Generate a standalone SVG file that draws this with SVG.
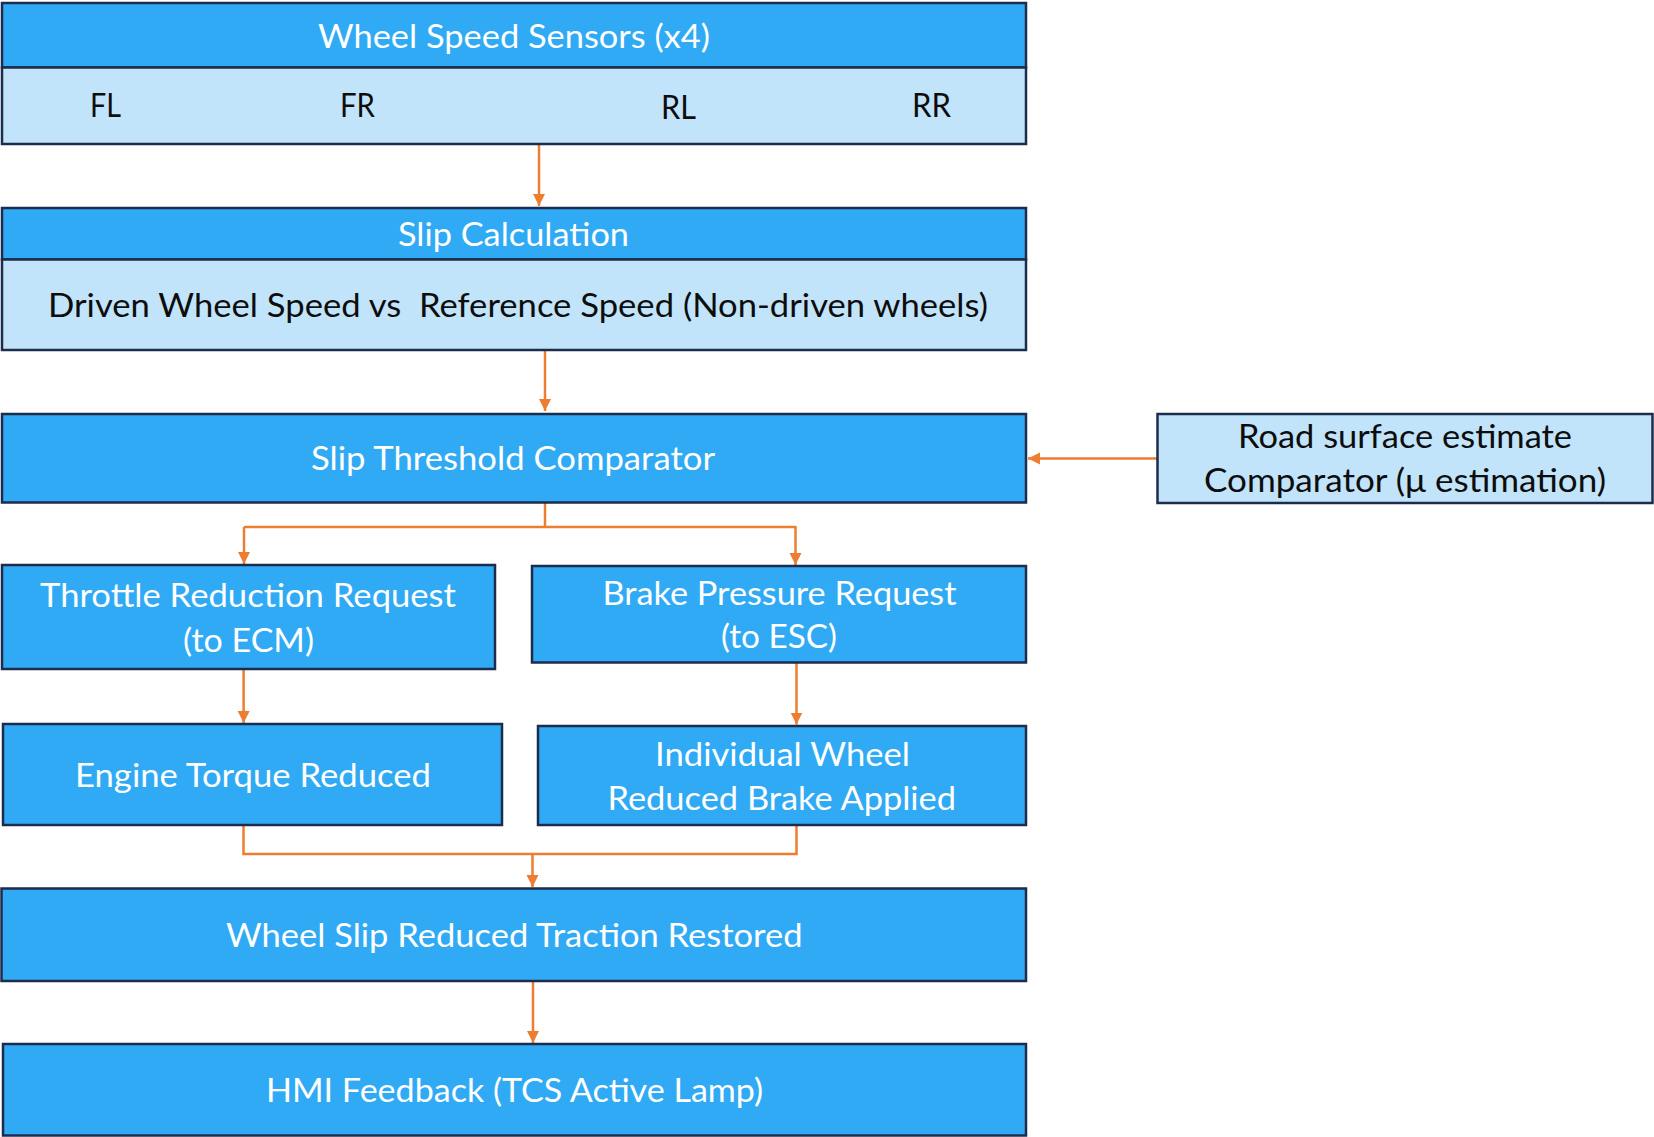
<svg xmlns="http://www.w3.org/2000/svg" width="1654" height="1137" viewBox="0 0 1654 1137">
<style>
.hdr{fill:#31AAF5;stroke:#1C2C4C;stroke-width:2.5}
.band{fill:#C1E4FA;stroke:#1C2C4C;stroke-width:2.5}
.t{font-family:Lato,"Liberation Sans",sans-serif;font-size:33.5px}
.w{fill:#FFFFFF}
.k{fill:#0D0D0D}
.c{stroke:#ED7D31;stroke-width:2.5;fill:none}
</style>
<defs>
<marker id="ah" markerUnits="userSpaceOnUse" markerWidth="13" markerHeight="13" refX="12" refY="6" orient="auto">
<path d="M0,0 L12,6 L0,12 z" fill="#ED7D31"/>
</marker>
</defs>
<rect width="1654" height="1137" fill="#FFFFFF"/>
<g id="connectors">
<path class="c" d="M539,145 V206" marker-end="url(#ah)"/>
<path class="c" d="M545,350 V411" marker-end="url(#ah)"/>
<path class="c" d="M1157,458.5 H1028" marker-end="url(#ah)"/>
<path class="c" d="M545,503 V527 M244,527 H796"/>
<path class="c" d="M244,527 V564" marker-end="url(#ah)"/>
<path class="c" d="M795.5,526 V565" marker-end="url(#ah)"/>
<path class="c" d="M243.6,669 V723" marker-end="url(#ah)"/>
<path class="c" d="M796.5,662.5 V724.5" marker-end="url(#ah)"/>
<path class="c" d="M243.5,825 V854 H796.5 V825"/>
<path class="c" d="M532.5,854 V887" marker-end="url(#ah)"/>
<path class="c" d="M533,982 V1043" marker-end="url(#ah)"/>
</g>
<g id="wheel-speed-sensors">
<rect class="hdr" x="2" y="3" width="1024" height="64.5"/>
<rect class="band" x="2" y="67.5" width="1024" height="76.5"/>
<text class="t w" x="318" y="47.7" textLength="392" lengthAdjust="spacingAndGlyphs">Wheel Speed Sensors (x4)</text>
<text class="t k" x="90" y="117" textLength="31" lengthAdjust="spacingAndGlyphs">FL</text>
<text class="t k" x="340" y="117" textLength="35" lengthAdjust="spacingAndGlyphs">FR</text>
<text class="t k" x="661" y="119.3" textLength="35" lengthAdjust="spacingAndGlyphs">RL</text>
<text class="t k" x="912" y="116.7" textLength="39" lengthAdjust="spacingAndGlyphs">RR</text>
</g>
<g id="slip-calculation">
<rect class="hdr" x="2" y="208" width="1024" height="51.5"/>
<rect class="band" x="2" y="259.5" width="1024" height="90.5"/>
<text class="t w" x="398" y="245.7" textLength="231" lengthAdjust="spacingAndGlyphs">Slip Calculation</text>
<text class="t k" x="48" y="316.7" textLength="940" lengthAdjust="spacingAndGlyphs" style="white-space:pre">Driven Wheel Speed vs  Reference Speed (Non-driven wheels)</text>
</g>
<g id="slip-threshold-comparator">
<rect class="hdr" x="2" y="414" width="1024" height="88.5"/>
<text class="t w" x="311" y="470" textLength="404" lengthAdjust="spacingAndGlyphs">Slip Threshold Comparator</text>
</g>
<g id="road-surface-estimate">
<rect class="band" x="1157.5" y="414" width="495" height="89"/>
<text class="t k" x="1238" y="448" textLength="334" lengthAdjust="spacingAndGlyphs">Road surface estimate</text>
<text class="t k" x="1204" y="492" textLength="402" lengthAdjust="spacingAndGlyphs">Comparator (μ estimation)</text>
</g>
<g id="throttle-reduction-request">
<rect class="hdr" x="2" y="565" width="493" height="104"/>
<text class="t w" x="40" y="607" textLength="416" lengthAdjust="spacingAndGlyphs">Throttle Reduction Request</text>
<text class="t w" x="183" y="651.7" textLength="131" lengthAdjust="spacingAndGlyphs">(to ECM)</text>
</g>
<g id="brake-pressure-request">
<rect class="hdr" x="532" y="566" width="494" height="96.5"/>
<text class="t w" x="602.5" y="605" textLength="354" lengthAdjust="spacingAndGlyphs">Brake Pressure Request</text>
<text class="t w" x="721" y="648" textLength="116" lengthAdjust="spacingAndGlyphs">(to ESC)</text>
</g>
<g id="engine-torque-reduced">
<rect class="hdr" x="3" y="724" width="499" height="101"/>
<text class="t w" x="75" y="787" textLength="356" lengthAdjust="spacingAndGlyphs">Engine Torque Reduced</text>
</g>
<g id="individual-wheel-brake">
<rect class="hdr" x="538" y="726" width="488" height="99"/>
<text class="t w" x="655" y="766" textLength="255" lengthAdjust="spacingAndGlyphs">Individual Wheel</text>
<text class="t w" x="607.5" y="810" textLength="348.5" lengthAdjust="spacingAndGlyphs">Reduced Brake Applied</text>
</g>
<g id="wheel-slip-reduced">
<rect class="hdr" x="1.5" y="888.5" width="1024.5" height="92.5"/>
<text class="t w" x="226" y="946.7" textLength="576.5" lengthAdjust="spacingAndGlyphs">Wheel Slip Reduced Traction Restored</text>
</g>
<g id="hmi-feedback">
<rect class="hdr" x="3" y="1044" width="1023" height="91.5"/>
<text class="t w" x="266" y="1101.7" textLength="497" lengthAdjust="spacingAndGlyphs">HMI Feedback (TCS Active Lamp)</text>
</g>
</svg>
